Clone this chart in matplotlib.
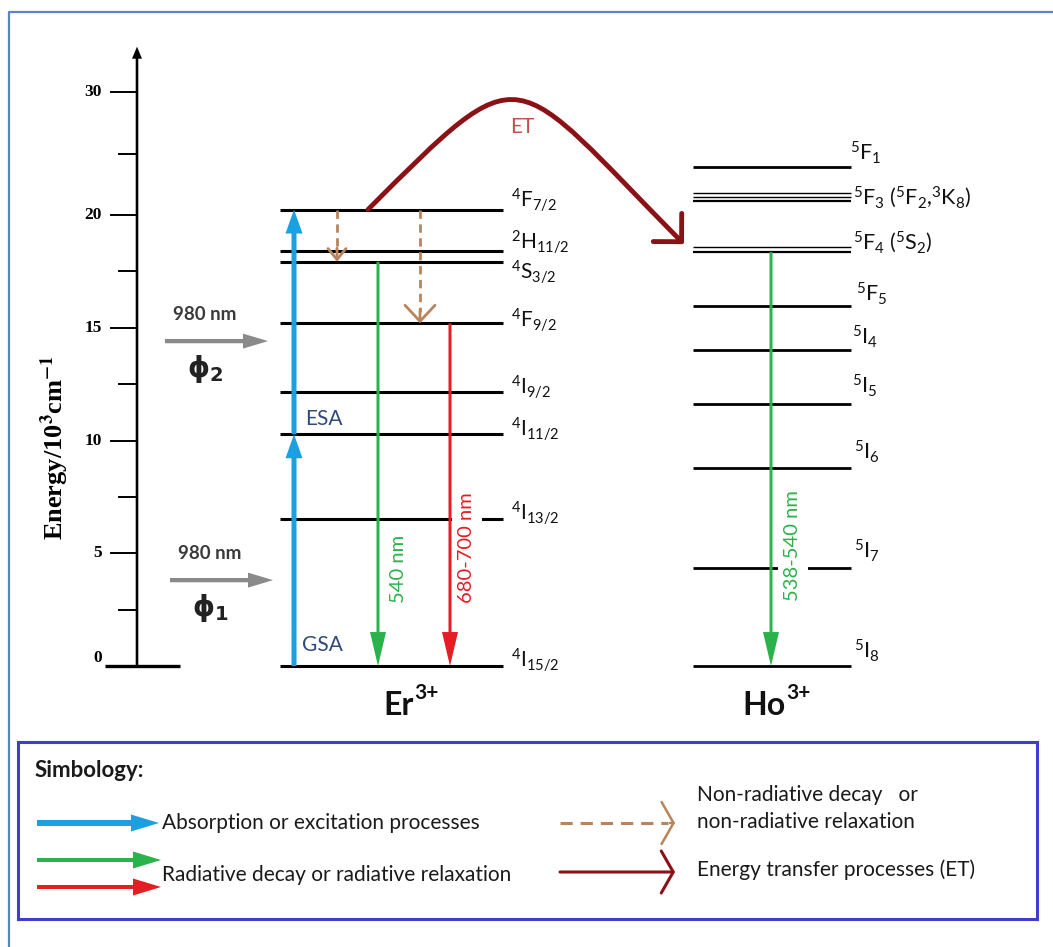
import numpy as np
import matplotlib
matplotlib.use('Agg')
import matplotlib.pyplot as plt
from matplotlib.path import Path
from matplotlib.patches import FancyArrowPatch
from matplotlib.lines import Line2D

plt.rcParams['font.family'] = ['Lato', 'DejaVu Sans']
plt.rcParams['mathtext.fontset'] = 'custom'
plt.rcParams['mathtext.rm'] = 'Lato'
plt.rcParams['mathtext.it'] = 'Lato:italic'
plt.rcParams['mathtext.bf'] = 'Lato:bold'

# energies in 10^3 cm^-1
er_labels = [r'$^4$I$_{15/2}$', r'$^4$I$_{13/2}$', r'$^4$I$_{11/2}$', r'$^4$I$_{9/2}$',
             r'$^4$F$_{9/2}$', r'$^4$S$_{3/2}$', r'$^2$H$_{11/2}$', r'$^4$F$_{7/2}$']
er_energy = [0.0, 6.52, 10.28, 12.14, 15.2, 17.93, 18.39, 20.45]

ho_labels = [r'$^5$I$_8$', r'$^5$I$_7$', r'$^5$I$_6$', r'$^5$I$_5$', r'$^5$I$_4$',
             r'$^5$F$_5$', r'$^5$F$_4$ ($^5$S$_2$)', r'$^5$F$_3$ ($^5$F$_2$,$^3$K$_8$)',
             r'$^5$F$_1$']
ho_energy = [0.0, 4.34, 8.8, 11.64, 14.01, 15.95, 18.36, 21.14, 23.93]
ho_split = [18.57, 21.44, 21.77]   # thin companion lines of 5F4 and 5F3

axis_major = [0, 5, 10, 15, 20, 30]
axis_minor = [2.5, 7.5, 12.5, 17.5, 25]
axis_top = 33.7

pump_energy = [3.81, 14.41]
pump_text = ['980 nm', '980 nm']
phi_text = [r'$\mathbf{\phi_1}$', r'$\mathbf{\phi_2}$']

# colours
BLUE = '#1ba1e2'
GREEN = '#2ab24b'
RED = '#e31e25'
BROWN = '#b8845c'
DARKRED = '#8b1116'
GRAY = '#8a8a8a'
NAVY = '#2f4b7c'
INK = '#111111'

PX = 72 / 100  # mutation scale so that arrow sizes are in pixels


def fwd(e):
    e = np.asarray(e, dtype=float)
    return np.where(e <= 20, e, 20 + (e - 20) * 0.545)


def inv(u):
    u = np.asarray(u, dtype=float)
    return np.where(u <= 20, u, 20 + (u - 20) / 0.545)


def solid_arrow(axes, x0, y0, x1, y1, color, tail, head_w, head_l, z=3):
    style = 'simple,head_length=%g,head_width=%g,tail_width=%g' % (head_l, head_w, tail)
    axes.annotate('', xy=(x1, y1), xytext=(x0, y0), zorder=z,
                  arrowprops=dict(arrowstyle=style, color=color, lw=0,
                                  shrinkA=0, shrinkB=0, mutation_scale=PX))


def open_head(axes, x0, y0, x1, y1, color, lw, head_w, head_l, z=3):
    style = '->,head_length=%g,head_width=%g' % (head_l, head_w)
    axes.annotate('', xy=(x1, y1), xytext=(x0, y0), zorder=z,
                  arrowprops=dict(arrowstyle=style, color=color, lw=lw,
                                  shrinkA=0, shrinkB=0, mutation_scale=PX))


def ion_label(x, e, name):
    # element symbol with a tight 3+ superscript
    ax.annotate(name, xy=(x, e), ha='right', va='center', fontsize=23,
                weight='bold', color=INK)
    ax.annotate('3+', xy=(x, e), xytext=(0.5, 9), textcoords='offset points',
                ha='left', va='center', fontsize=15, weight='bold', color=INK)


fig = plt.figure(figsize=(10.53, 9.47), dpi=100)
ax = fig.add_axes([0, 0, 1, 1])
ax.set_yscale('function', functions=(fwd, inv))
ax.set_xlim(0, 1053)
ax.set_ylim(-12.46, 37.5)
ax.axis('off')

# ---- energy axis
ax.plot([105, 180], [0, 0], color='k', lw=2.4, solid_capstyle='butt')
solid_arrow(ax, 137, 0, 137, axis_top, 'k', 2.6, 10, 12)
for e in axis_major:
    ax.plot([111, 137], [e, e], color='k', lw=1.4)
    ax.text(102, e + (0.35 if e == 0 else 0), str(e), ha='right', va='center',
            family='Liberation Serif', weight='bold', fontsize=12.5)
for e in axis_minor:
    ax.plot([119, 137], [e, e], color='k', lw=1.4)
ax.text(55, 9.67, r'Energy/10$^{\mathbf{3}}$cm$^{\mathbf{-1}}$', rotation=90,
        ha='center', va='center', family='Liberation Serif', weight='bold',
        fontsize=19, math_fontfamily='stix')

# ---- pump arrows
for e, t, p, x0 in zip(pump_energy, pump_text, phi_text, [170, 165]):
    solid_arrow(ax, x0, e, x0 + 103, e, GRAY, 4.3, 15, 25)
    ax.annotate(t, xy=(x0 + 40, e), xytext=(0, 19), textcoords='offset points',
                ha='center', va='center', fontsize=13.5, weight='bold', color='#3a3a3a')
    ax.annotate(p, xy=(x0 + 40, e), xytext=(0, -20), textcoords='offset points',
                ha='center', va='center', fontsize=20, color='#222222',
                math_fontfamily='dejavusans')

# ---- Er3+ levels
er_x0, er_x1 = 280, 503
er_dy = [4.3, 4.3, 3.6, 3.6, 2.2, -7.2, 6.5, 6.5]
for e, lbl, dy in zip(er_energy, er_labels, er_dy):
    ax.plot([er_x0, er_x1], [e, e], color='k', lw=2.2, solid_capstyle='butt', zorder=2)
    ax.annotate(lbl, xy=(er_x1, e), xytext=(5.5, dy), textcoords='offset points',
                ha='left', va='center', fontsize=15, color=INK)
ion_label(414, -1.75, 'Er')

# ground and excited state absorption
solid_arrow(ax, 294, er_energy[0], 294, er_energy[2], BLUE, 5, 17, 24)
solid_arrow(ax, 294, er_energy[2], 294, er_energy[7], BLUE, 5, 17, 24)
ax.text(324, 10.95, 'ESA', ha='center', va='center', fontsize=15, color=NAVY)
ax.text(322, 0.93, 'GSA', ha='center', va='center', fontsize=15, color=NAVY)

# non radiative relaxation
for x, tip, hw, hl in [(337, er_energy[5], 9, 11), (420, er_energy[4], 15, 16)]:
    ax.plot([x, x], [er_energy[7], tip + 0.5], color=BROWN, lw=2, dashes=(3, 2), zorder=3)
    open_head(ax, x, tip + 0.6, x, tip, BROWN, 2, hw, hl)

# radiative decay
solid_arrow(ax, 378, er_energy[5], 378, er_energy[0], GREEN, 3, 16, 34)
solid_arrow(ax, 450, er_energy[4], 450, er_energy[0], RED, 3, 16, 34)
ax.text(398, 4.3, '540 nm', rotation=90, ha='center', va='center',
        fontsize=14.5, color=GREEN)
ax.text(467, 5.25, '680-700 nm', rotation=90, ha='center', va='center',
        fontsize=14.5, color=RED, zorder=2.5,
        bbox=dict(boxstyle='square,pad=0.3', fc='white', ec='none'))

# ---- Ho3+ levels
ho_x0, ho_x1 = 693, 851
ho_dx = [2.2, 2.2, 2.2, 0.7, 0.7, 3.6, 1.4, 1.4, -0.7]
ho_dy = [10.8, 12.2, 11.5, 13, 9.4, 9.4, 7.2, 2.9, 10]
for i, (e, lbl) in enumerate(zip(ho_energy, ho_labels)):
    lw = 2.0 if i < 6 or i == 8 else 1.6
    ax.plot([ho_x0, ho_x1], [e, e], color='k', lw=lw, solid_capstyle='butt', zorder=2)
    ax.annotate(lbl, xy=(ho_x1, e), xytext=(ho_dx[i], ho_dy[i]), textcoords='offset points',
                ha='left', va='center', fontsize=15.5, color=INK)
for e in ho_split:
    ax.plot([ho_x0, ho_x1], [e, e], color='k', lw=1.0, solid_capstyle='butt', zorder=2)
ion_label(786, -1.75, 'Ho')

solid_arrow(ax, 771, ho_energy[6], 771, ho_energy[0], GREEN, 3, 16, 34)
ax.text(793, 5.34, '538-540 nm', rotation=90, ha='center', va='center',
        fontsize=14.5, color=GREEN, zorder=2.5,
        bbox=dict(boxstyle='square,pad=0.3', fc='white', ec='none'))

# ---- energy transfer Er 4F7/2 -> Ho 5F4
et_path = Path([(368, er_energy[7]), (527, 33.4), (508, 32.1), (684, ho_energy[6] + 0.35)],
               [Path.MOVETO, Path.CURVE4, Path.CURVE4, Path.CURVE4])
ax.add_patch(FancyArrowPatch(path=et_path, arrowstyle='->,head_length=20,head_width=20',
                             mutation_scale=PX, lw=3.5, color=DARKRED, zorder=4,
                             transform=ax.transData))
ax.text(522, 27.2, 'ET', ha='center', va='center', fontsize=15, color='#c0504d')

# ---- outer frame
fig.add_artist(Line2D([9 / 1053, 9 / 1053, 1], [0, 1 - 12.5 / 947, 1 - 12.5 / 947],
                      transform=fig.transFigure, color='#5b84c6', lw=1.6))

# ---- symbology box
lax = fig.add_axes([18 / 1053, 28 / 947, 1019 / 1053, 177 / 947])
lax.set_xlim(0, 1019)
lax.set_ylim(177, 0)
lax.set_xticks([])
lax.set_yticks([])
for s in lax.spines.values():
    s.set_color('#3f3fcc')
    s.set_linewidth(2.2)

lax.text(17, 28, 'Simbology:', ha='left', va='center', fontsize=16, weight='bold',
         color='#1a1a1a')
solid_arrow(lax, 19, 81, 141, 81, BLUE, 6, 17, 28)
lax.text(144, 81, 'Absorption or excitation processes', ha='left', va='center',
         fontsize=15, color='#1a1a1a')
solid_arrow(lax, 19, 118, 143, 118, GREEN, 4, 17, 28)
solid_arrow(lax, 19, 145, 143, 145, RED, 4, 17, 28)
lax.text(144, 133, 'Radiative decay or radiative relaxation', ha='left', va='center',
         fontsize=15, color='#1a1a1a')

lax.plot([542, 650], [81, 81], color=BROWN, lw=2.2, dashes=(4, 2.6))
open_head(lax, 652, 81, 657, 81, BROWN, 1.8, 21, 12)
lax.text(679, 53, 'Non-radiative decay   or', ha='left', va='center',
         fontsize=15, color='#1a1a1a')
lax.text(679, 80, 'non-radiative relaxation', ha='left', va='center',
         fontsize=15, color='#1a1a1a')
open_head(lax, 542, 130, 657, 130, DARKRED, 2.2, 21, 12)
lax.text(679, 128, 'Energy transfer processes (ET)', ha='left', va='center',
         fontsize=15, color='#1a1a1a')

fig.savefig('out.png', dpi=100, facecolor='white')
